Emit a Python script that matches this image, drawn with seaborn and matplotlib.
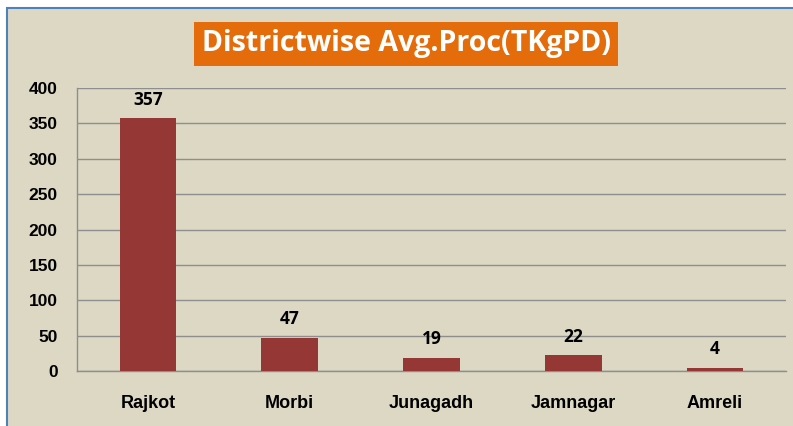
import matplotlib
matplotlib.use("Agg")
import matplotlib.pyplot as plt
import matplotlib.patches as mpatches
import seaborn as sns
import pandas as pd

districts = ["Rajkot", "Morbi", "Junagadh", "Jamnagar", "Amreli"]
avg_proc = [357, 47, 19, 22, 4]
y_ticks = [0, 50, 100, 150, 200, 250, 300, 350, 400]
title = "Districtwise Avg.Proc(TKgPD)"

bg = "#ddd8c3"
bar_color = "#953735"
grid_color = "#8e8e8e"

df = pd.DataFrame({"district": districts, "value": avg_proc})

sns.set_style("white")
fig = plt.figure(figsize=(7.93, 4.26), dpi=100, facecolor="white")

# beige panel with blue border (cropped on the right/bottom)
panel = mpatches.Rectangle((7 / 793, -0.05), 1.05, 1 - 8 / 426 + 0.05,
                           transform=fig.transFigure, facecolor=bg,
                           edgecolor="#4f81bd", linewidth=1.5, zorder=-10)
fig.patches.append(panel)

ax = fig.add_axes([77 / 793, 1 - 371 / 426, (786 - 77) / 793, (371 - 88) / 426])
ax.patch.set_alpha(0)

sns.barplot(data=df, x="district", y="value", color=bar_color, width=0.4,
            saturation=1, ax=ax, zorder=3, edgecolor="none", linewidth=0)

ax.set_ylim(0, 400)
ax.set_xlim(-0.5, len(districts) - 0.5)
ax.set_yticks(y_ticks)
ax.set_yticklabels([str(t) for t in y_ticks], fontfamily="Liberation Sans",
                   fontweight="bold", fontsize=12.5, color="black")
ax.set_xticks(range(len(districts)))
ax.set_xticklabels(districts, fontfamily="Liberation Sans",
                   fontweight="bold", fontsize=13, color="black")
ax.set_xticks([i - 0.5 for i in range(len(districts) + 1)], minor=True)
ax.tick_params(axis="x", which="major", length=0, pad=17)
ax.tick_params(axis="x", which="minor", length=5, color=grid_color, width=1)
ax.tick_params(axis="y", length=5, color=grid_color, width=1, pad=9)
ax.set_xlabel("")
ax.set_ylabel("")

ax.yaxis.grid(True, color=grid_color, linewidth=1, zorder=0)
ax.set_axisbelow(True)
for side in ["top", "right"]:
    ax.spines[side].set_visible(False)
for side in ["left", "bottom"]:
    ax.spines[side].set_color(grid_color)
    ax.spines[side].set_linewidth(1)

for container in ax.containers:
    ax.bar_label(container, labels=[str(v) for v in avg_proc], padding=7,
                 fontfamily="Open Sans", fontweight="bold", fontsize=12.5,
                 color="black")

fig.text(406 / 793, 1 - 44 / 426, title, ha="center", va="center",
         color="white", fontsize=20.5, fontweight="bold", fontfamily="Open Sans",
         bbox=dict(boxstyle="square,pad=0.28", facecolor="#e46c0a",
                   edgecolor="none"))

fig.savefig("out.png", dpi=100, facecolor="white")
